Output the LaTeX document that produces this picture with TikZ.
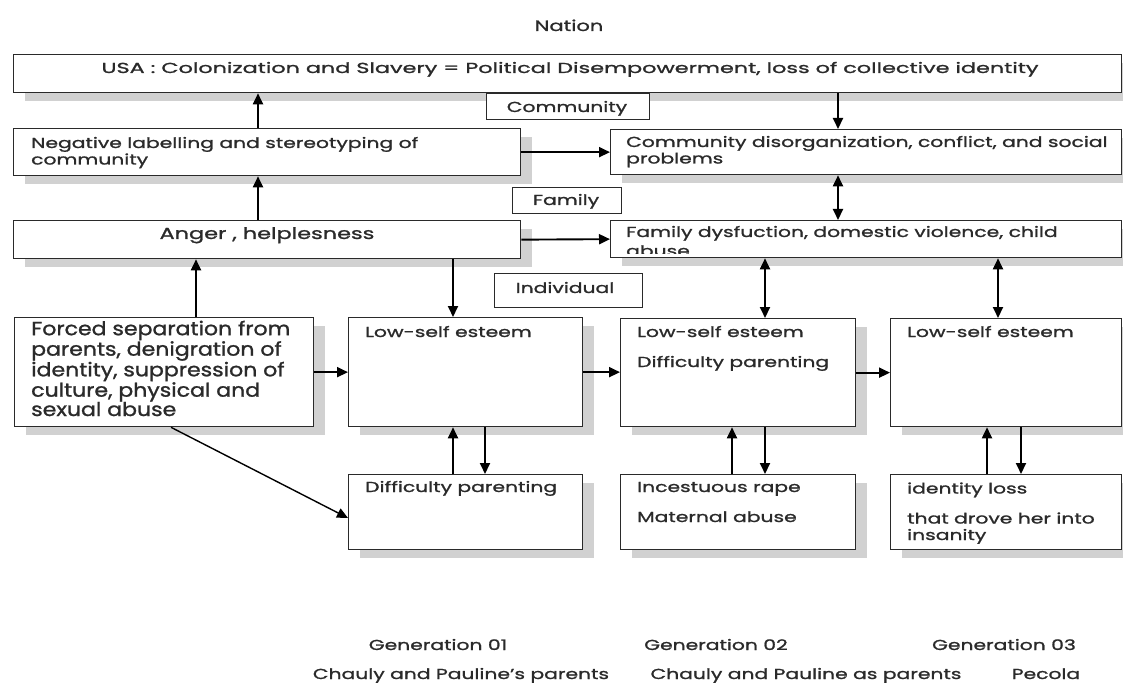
\documentclass[tikz,border=0pt]{standalone}
\usepackage{fontspec}
\setmainfont{Poppins}[FakeStretch=1.4,FakeBold=1.2]
\newfontfamily\bigfont{Poppins}[FakeStretch=1.16,FakeBold=1.2]
\usetikzlibrary{arrows.meta,shadows}
\definecolor{ink}{HTML}{2A2A2A}
\begin{document}
\begin{tikzpicture}[x=1pt,y=-1pt,
  box/.style={draw=ink, line width=1.3pt, fill=white, inner sep=0pt, anchor=north west,
     drop shadow={shadow xshift=11pt, shadow yshift=-8pt, fill=black!18, opacity=1}},
  lab/.style={draw=ink, line width=1.1pt, fill=white, inner sep=0pt, anchor=north west},
  txt/.style={inner sep=0pt, text=ink, font=\fontsize{14.5}{16.5}\selectfont, align=left, anchor=base west},
  ctxt/.style={inner sep=0pt, text=ink, font=\fontsize{14.5}{16.5}\selectfont, anchor=base},
  big/.style={inner sep=0pt, text=ink, font=\bigfont\fontsize{19}{19.3}\selectfont, align=left, anchor=base west},
  gen/.style={inner sep=0pt, text=ink, font=\fontsize{14.5}{17}\selectfont, anchor=base},
  tip/.style={-{Triangle[length=11pt,width=10pt]}},
  arr/.style={draw=black, line width=1.9pt, tip},
  darr/.style={draw=black, line width=1.9pt, {Triangle[length=11pt,width=10pt]}-{Triangle[length=11pt,width=10pt]}},
]
\fill[white] (0,0) rectangle (1123,684);
\useasboundingbox (0,0) rectangle (1123,684);

% title
\node[ctxt, font=\fontsize{15}{17}\selectfont] (nation) at (569,31) {Nation};

% boxes
\node[box, minimum width=1108pt, minimum height=38pt] (usa) at (13,54) {};
\node[box, minimum width=507pt, minimum height=47pt] (neg) at (13,128) {};
\node[box, minimum width=511pt, minimum height=45pt] (cdis) at (610,129) {};
\node[box, minimum width=507pt, minimum height=38pt] (anger) at (13,220) {};
\node[box, minimum width=511pt, minimum height=37pt] (fdys) at (610,220) {};
\node[box, minimum width=299pt, minimum height=109pt] (forced) at (14,317) {};
\node[box, minimum width=234pt, minimum height=109pt] (lse1) at (348,317) {};
\node[box, minimum width=235pt, minimum height=108pt] (lse2) at (620,318) {};
\node[box, minimum width=231pt, minimum height=108pt] (lse3) at (890,318) {};
\node[box, minimum width=234pt, minimum height=75pt] (dp1) at (348,474) {};
\node[box, minimum width=235pt, minimum height=75pt] (ir) at (620,474) {};
\node[box, minimum width=231pt, minimum height=75pt] (id) at (890,474) {};

% level labels
\node[lab, minimum width=163pt, minimum height=26pt] (comm) at (486,93) {};
\node[lab, minimum width=109pt, minimum height=26pt] (fam) at (512,187) {};
\node[lab, minimum width=148pt, minimum height=34pt] (ind) at (494,273) {};
\node[ctxt] (commt) at (567,112) {Community};
\node[ctxt] (famt) at (566,205) {Family};
\node[ctxt] (indt) at (565,293) {Individual};

% texts
\node[ctxt] (usat) at (570,73) {\scalebox{1.1}[1]{USA : Colonization and Slavery = Political Disempowerment, loss of collective identity}};
\node[txt] (negt) at (31,164.5) {Negative labelling and stereotyping of\\community};
\node[txt] (cdist) at (626,163.5) {Community disorganization, conflict, and social\\problems};
\node[ctxt, font=\fontsize{16}{18}\selectfont] (angert) at (267,239) {Anger , helplesness};
\node[txt] (fdyst) at (626,237) {Family dysfuction, domestic violence, child};
\begin{scope}
  \clip (fdys.north west) rectangle ([yshift=5pt]fdys.south east);
  \node[txt] (fdyst2) at (626,256) {abuse};
\end{scope}
\node[big] (forcedt) at (31,416) {Forced separation from\\parents, denigration of\\identity, suppression of\\culture, physical and\\sexual abuse};
\node[txt] (lse1t) at (365,337) {Low-self esteem};
\node[txt] (lse2t) at (637,367) {Low-self esteem\\[13.5pt]Difficulty parenting};
\node[txt] (lse3t) at (907,337) {Low-self esteem};
\node[txt] (dp1t) at (365,492) {Difficulty parenting};
\node[txt] (irt) at (637,522) {Incestuous rape\\[13.5pt]Maternal abuse};
\node[txt] (idt) at (907,540) {identity loss\\[13.5pt]that drove her into\\insanity};

% generation labels
\node[gen] (g1) at (438,650) {Generation 01};
\node[gen] (g2) at (716,650) {Generation 02};
\node[gen] (g3) at (1004,650) {Generation 03};
\node[gen] (p1) at (461,679) {Chauly and Pauline's parents};
\node[gen] (p2) at (806,679) {Chauly and Pauline as parents};
\node[gen] (p3) at (1046,679) {Pecola};

% x positions
\coordinate (x171) at (171,0);
\coordinate (x196) at (196,0);
\coordinate (x258) at (258,0);
\coordinate (x453) at (453,0);
\coordinate (x485) at (485,0);
\coordinate (x732) at (732,0);
\coordinate (x765) at (765,0);
\coordinate (x838) at (838,0);
\coordinate (x987) at (987,0);
\coordinate (x998) at (998,0);
\coordinate (x1021) at (1021,0);
\coordinate (y518) at (0,518);

% connectors
\draw[arr] (x258 |- anger.north) -- (x258 |- neg.south);
\draw[arr] (x258 |- neg.north) -- (x258 |- usa.south);
\draw[arr] (x196 |- forced.north) -- (x196 |- anger.south);
\draw[arr] (x838 |- usa.south) -- (x838 |- cdis.north);
\draw[arr] (neg.east) -- (cdis.west);
\draw[darr] (x838 |- cdis.south) -- (x838 |- fdys.north);
\draw[arr] (anger.east) -- (fdys.west);
\draw[arr] (x453 |- anger.south) -- (x453 |- lse1.north);
\draw[darr] (x765 |- fdys.south) -- (x765 |- lse2.north);
\draw[darr] (x998 |- fdys.south) -- (x998 |- lse3.north);
\draw[arr] (forced.east) -- (lse1.west);
\draw[arr] (lse1.east) -- (lse1.east -| lse2.west);
\draw[arr] (lse2.east) -- (lse2.east -| lse3.west);
\draw[arr] (x453 |- dp1.north) -- (x453 |- lse1.south);
\draw[arr] (x485 |- lse1.south) -- (x485 |- dp1.north);
\draw[arr] (x732 |- ir.north) -- (x732 |- lse2.south);
\draw[arr] (x765 |- lse2.south) -- (x765 |- ir.north);
\draw[arr] (x987 |- id.north) -- (x987 |- lse3.south);
\draw[arr] (x1021 |- lse3.south) -- (x1021 |- id.north);
\draw[arr, line width=1.4pt] (x171 |- forced.south) -- (dp1.west |- y518);
\end{tikzpicture}
\end{document}
